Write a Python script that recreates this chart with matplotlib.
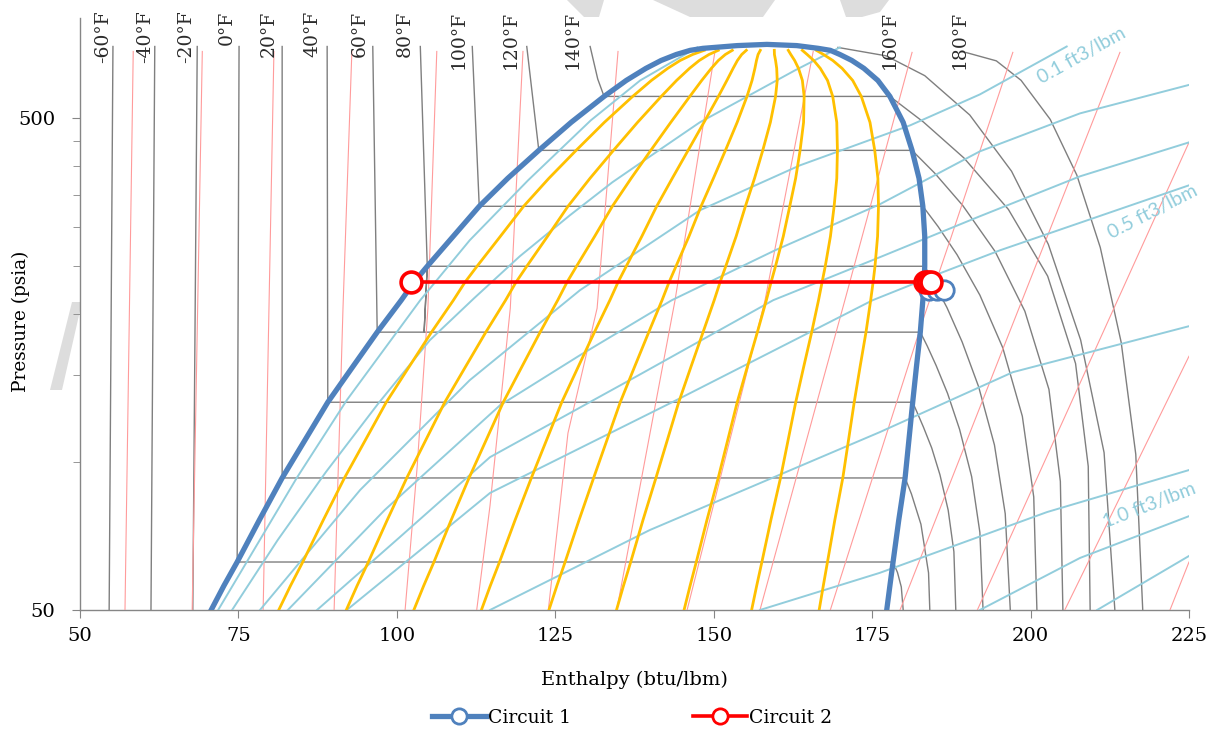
import matplotlib
matplotlib.use("Agg")
import matplotlib.pyplot as plt
from matplotlib.lines import Line2D
from matplotlib.patches import Polygon
from matplotlib.ticker import NullFormatter

# ---------------- saturation dome (psia, btu/lbm) ----------------
sat_p = [50, 56.0, 62.6, 76.2, 92.8, 110.8, 132.3, 156.6, 183.7, 213.4,
         232.1, 250.1, 287.8, 331.2, 377.6, 430.4, 490.7, 554.1, 597.2,
         631.9, 655.7, 674.4, 687.6]
sat_hl = [70.7, 72.7, 74.8, 78.3, 81.9, 85.5, 89.1, 93.1, 96.9, 100.7,
          102.7, 104.8, 108.9, 113.0, 117.5, 122.4, 127.5, 132.7, 136.2,
          139.3, 141.7, 144.1, 146.3]
sat_hv = [177.3, 177.8, 178.3, 179.2, 180.2, 180.8, 181.4, 182.0, 182.6,
          183.0, 183.2, 183.3, 183.3, 183.0, 182.4, 181.3, 179.9, 177.8,
          175.9, 173.7, 171.8, 169.9, 168.4]
# rounded cap of the dome around the critical point
crit_h = [148.3, 153.7, 158.4, 163.1, 166.5]
crit_p = [694, 703, 707, 703, 694]

quality = [0.1, 0.2, 0.3, 0.4, 0.5, 0.6, 0.7, 0.8, 0.9]

# ---------------- isotherms (°F): liquid branch, dome crossing, vapor branch ----------------
temps = [-60, -40, -20, 0, 20, 40, 60, 80, 100, 120, 140, 160, 180]
iso_h = [
    [55.2, 54.6],
    [61.8, 61.2],
    [68.5, 67.8],
    [75.1, 74.8, 178.3, 179.0, 179.6, 179.9],
    [81.9, 81.9, 180.2, 181.2, 182.7, 183.9, 184.1],
    [89.0, 89.1, 181.4, 182.1, 183.1, 184.4, 185.7, 187.0, 187.9, 188.2],
    [96.2, 96.9, 182.6, 183.7, 185.1, 186.9, 188.8, 190.7, 192.0, 192.5],
    [103.7, 104.8, 104.3, 104.8, 183.3, 184.8, 186.8, 189.2, 191.8,
     194.3, 196.0, 196.8],
    [111.9, 113.0, 183.0, 185.4, 188.4, 192.0, 195.6, 198.7, 200.5,
     201.0],
    [120.5, 122.4, 181.3, 184.9, 189.3, 194.4, 199.1, 202.9, 204.7,
     205.1],
    [130.5, 131.7, 132.7, 177.8, 183.1, 189.5, 196.5, 202.7, 207.1,
     209.1, 209.4],
    [169.6, 177.2, 183.3, 190.4, 197.0, 202.8, 207.9, 211.6, 213.3],
    [189.8, 194.6, 198.5, 203.1, 207.3, 211.0, 214.3, 216.6, 217.7],
]
iso_p = [
    [700, 50],
    [700, 50],
    [700, 50],
    [700, 62.6, 62.6, 59.6, 55.7, 50],
    [700, 92.8, 92.8, 86.1, 74.7, 59.5, 50],
    [700, 132.3, 132.3, 126.1, 117.7, 106.8, 94.2, 79.8, 65.7, 50],
    [700, 183.7, 183.7, 172.1, 157.1, 137.9, 116.5, 93.4, 71.9, 50],
    [700, 250.1, 183.7, 250.1, 250.1, 230.8, 206.2, 175.5, 142.3, 108.3,
     78.5, 50],
    [700, 331.2, 331.2, 301.3, 264.0, 218.5, 170.9, 123.9, 84.9, 50],
    [700, 430.4, 430.4, 386.5, 332.4, 268.1, 202.6, 140.5, 91.3, 50],
    [700, 601, 554.1, 554.1, 491.4, 415.2, 326.4, 238.8, 158.6, 98.0, 50],
    [697, 670.1, 610.7, 508.0, 390.3, 277.2, 177.1, 104.5, 50],
    [680.7, 654.5, 597.5, 497.6, 383.3, 273.1, 175.1, 103.7, 50],
]
temp_label_h = [53.7, 60.3, 66.8, 73.1, 79.7, 86.6, 94.2, 101.3, 109.7,
                117.9, 127.8, 177.8, 188.9]

# ---------------- constant-entropy lines ----------------
ent_h = [
    [58.4, 57.1],
    [69.3, 67.7],
    [80.6, 78.9],
    [92.9, 91.5, 90.1],
    [106.3, 104.9, 103.2, 101.3],
    [119.9, 117.9, 114.7, 112.6],
    [134.9, 131.6, 127.0, 123.9],
    [150.2, 143.9, 134.7],
    [165.7, 158.1, 145.8],
    [181.3, 170.7, 157.3],
    [197.2, 187.3, 183.0, 168.4],
    [214.1, 196.8, 179.4],
    [225.0, 191.6],
    [225.0, 205.4],
    [225.0, 222.0],
]
ent_p = [
    [684, 50],
    [684, 50],
    [684, 50],
    [684, 205.5, 50],
    [684, 205.5, 97.6, 50],
    [684, 205.5, 81.5, 50],
    [684, 205.5, 114.5, 50],
    [684, 213.4, 50],
    [684, 213.4, 50],
    [681, 213.4, 50],
    [681, 282.5, 194.3, 50],
    [681, 185.4, 50],
    [446.8, 50],
    [164.1, 50],
    [62.6, 50],
]

# ---------------- constant-volume lines ----------------
vol_h = [
    [71.8, 76.5, 84.2, 92.1, 103.7, 111.5, 120.7, 130.6, 138.4, 147.4],
    [74.0, 81.2, 88.8, 97.0, 105.2, 112.2, 119.4, 127.3, 134.0, 141.1,
     147.8, 155.3, 162.8, 169.9],
    [78.4, 94.2, 111.5, 128.9, 147.8, 163.6, 181.0, 192.0, 205.7],
    [82.8, 98.1, 116.3, 128.9, 143.4, 159.7, 176.2, 192.0, 207.8, 225.0],
    [87.4, 100.5, 114.7, 137.6, 159.4, 176.2, 192.0, 207.8, 225.0],
    [92.1, 103.7, 114.7, 144.7, 175.1, 185.7, 195.2, 225.0],
    [114.7, 139.9, 176.2, 197.2, 225.0],
    [157.3, 176.2, 202.6, 225.0],
    [192.0, 207.8, 225.0],
    [210.5, 225.0],
]
vol_p = [
    [50, 63.2, 92.8, 133.6, 213.4, 282.5, 374.0, 495.3, 597.2, 697],
    [50, 69.4, 95.4, 131.2, 176.9, 215.4, 262.1, 317.5, 370.6, 428.4,
     490.7, 554.1, 625.8, 697],
    [50, 87.7, 146.7, 223.6, 325.0, 401.2, 483.9, 559.3, 700],
    [50, 79.9, 130.5, 164.9, 213.4, 269.6, 334.3, 428.4, 511.8, 584.8],
    [50, 70.4, 102.3, 148.8, 213.4, 260.9, 316.1, 381.1, 446.8],
    [50, 66.2, 86.5, 134.8, 213.4, 242.0, 269.6, 365.4],
    [50, 72.7, 115.0, 152.3, 188.9],
    [50, 59.5, 79.1, 96.3],
    [50, 63.8, 77.6],
    [50, 64.4],
]
vol_labels = ["0.1 ft3/lbm", "0.5 ft3/lbm", "1.0 ft3/lbm"]
vol_label_pos = [(208.0, 671.3, 29), (219.2, 322.0, 27), (218.8, 81.7, 21)]

# ---------------- operating points ----------------
c1_h = [184.0, 185.2, 186.3]
c1_p = [223.6, 223.6, 223.6]
c2_h = [102.3, 183.3, 183.8, 184.3]
c2_p = [232.1, 232.1, 232.1, 232.1]

# ---------------- drawing ----------------
BLUE = "#4F81BD"
GRAY = "#7F7F7F"
ORANGE = "#FFC000"
PINK = "#FF9B9B"
LBLUE = "#92CDDC"
SERIF = "DejaVu Serif"

W, H = 1214, 731
fig = plt.figure(figsize=(W / 100, H / 100), dpi=100)

# faint background artwork peeking out around the plot area
for pts in ([(567, 0), (604, 0), (599, 17), (584, 17)],
            [(653, 0), (775, 0), (763, 17), (690, 17)],
            [(840, 0), (889, 0), (880, 12), (862, 17), (846, 17)],
            [(50, 390), (62, 390), (82, 302), (72, 302)]):
    fig.patches.append(Polygon([(x / W, 1 - y / H) for x, y in pts],
                               closed=True, transform=fig.transFigure,
                               facecolor="#DDDDDD", edgecolor="none",
                               zorder=-5))

ax = fig.add_axes([80 / W, 1 - 610 / H, 1109 / W, 592 / H])
ax.set_yscale("log")
ax.set_xlim(50, 225)
ax.set_ylim(50, 800)

for hs, ps in zip(iso_h, iso_p):
    ax.plot(hs, ps, color=GRAY, lw=1.0, zorder=2)

for hs, ps in zip(ent_h, ent_p):
    ax.plot(hs, ps, color=PINK, lw=0.8, zorder=3)

for hs, ps in zip(vol_h, vol_p):
    ax.plot(hs, ps, color=LBLUE, lw=1.4, zorder=4)

for q in quality:
    hq = [hl + q * (hv - hl) for hl, hv in zip(sat_hl, sat_hv)]
    ax.plot(hq, sat_p, color=ORANGE, lw=2.0, zorder=5)

dome_h = sat_hl + crit_h + sat_hv[::-1]
dome_p = sat_p + crit_p + sat_p[::-1]
ax.plot(dome_h, dome_p, color=BLUE, lw=3.8, zorder=6, solid_joinstyle="round")

ax.plot(c1_h, c1_p, color=BLUE, lw=3.8, marker="o", ms=14, mfc="white",
        mec=BLUE, mew=2.0, zorder=7)
ax.plot(c2_h, c2_p, color="#FF0000", lw=2.6, marker="o", ms=15, mfc="white",
        mec="#FF0000", mew=2.6, zorder=8)

for t, hx in zip(temps, temp_label_h):
    ax.text(hx, 828, f"{t}°F", rotation=90, ha="center", va="top",
            family=SERIF, fontsize=13.5, color="#2B2B2B", clip_on=False)

for text, (hx, px, ang) in zip(vol_labels, vol_label_pos):
    ax.text(hx, px, text, rotation=ang, ha="center", va="center",
            family="Lato", fontsize=14, color=LBLUE, clip_on=False,
            rotation_mode="anchor")

# axes styling
for side in ("top", "right"):
    ax.spines[side].set_visible(False)
for side in ("left", "bottom"):
    ax.spines[side].set_color("#868686")
    ax.spines[side].set_linewidth(1.0)

ax.set_xticks([50, 75, 100, 125, 150, 175, 200, 225])
ax.set_xticklabels(["50", "75", "100", "125", "150", "175", "200", "225"])
ax.set_yticks([50, 500])
ax.set_yticklabels(["50", "500"])
ax.set_yticks([100, 150, 200, 250, 300, 350, 400, 450], minor=True)
ax.yaxis.set_minor_formatter(NullFormatter())
ax.tick_params(axis="both", which="major", direction="out", length=6,
               color="#868686", labelsize=14, pad=6)
ax.tick_params(axis="y", which="minor", direction="out", length=5,
               color="#868686")
ax.tick_params(axis="y", which="major", pad=12)
for lab in ax.get_xticklabels() + ax.get_yticklabels():
    lab.set_family(SERIF)

ax.set_xlabel("Enthalpy (btu/lbm)", family=SERIF, fontsize=14)
ax.xaxis.set_label_coords(0.5, -0.103)
ax.set_ylabel("Pressure (psia)", family=SERIF, fontsize=13.3)
ax.yaxis.set_label_coords(-0.045, 0.488)

handles = [
    Line2D([], [], color=BLUE, lw=3.8, marker="o", ms=11, mfc="white",
           mec=BLUE, mew=2.0),
    Line2D([], [], color="#FF0000", lw=2.6, marker="o", ms=11, mfc="white",
           mec="#FF0000", mew=2.0),
]
fig.legend(handles, ["Circuit 1", "Circuit 2"], loc="center",
           bbox_to_anchor=(632 / W, 1 - 718 / H), ncol=2, frameon=False,
           prop={"family": SERIF, "size": 13.5}, handlelength=2.9,
           columnspacing=6.5, handletextpad=0.1)

fig.savefig("out.png", dpi=100)
